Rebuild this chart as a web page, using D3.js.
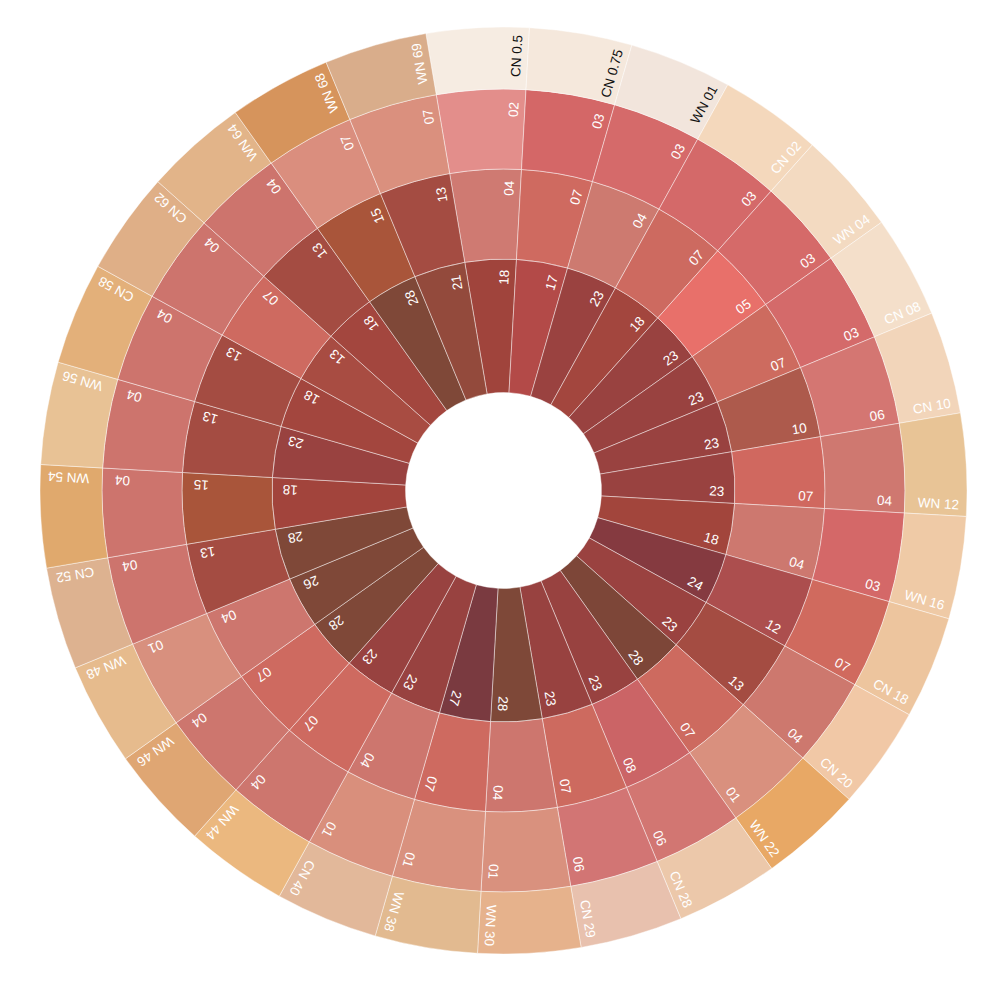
<!DOCTYPE html>
<html>
<head>
<meta charset="utf-8">
<script src="https://cdn.jsdelivr.net/npm/d3@7"></script>
<style>
  html, body { margin: 0; padding: 0; background: #fff; }
  svg { display: block; }
</style>
</head>
<body>
<svg id="chart" width="1000" height="1000"></svg>
<script>
// ---------- data (clockwise from the top segment) ----------
const outerLabels = ["CN 0.5","CN 0.75","WN 01","CN 02","WN 04","CN 08","CN 10","WN 12","WN 16","CN 18",
  "CN 20","WN 22","CN 28","CN 29","WN 30","WN 38","CN 40","WN 44","WN 46","WN 48",
  "CN 52","WN 54","WN 56","CN 58","CN 62","WN 64","WN 68","WN 69"];
const ring3Values = [2,3,3,3,3,3,6,4,3,7,4,1,6,6,1,1,1,4,4,1,4,4,4,4,4,4,7,7];
const ring2Values = [4,7,4,7,5,7,10,7,4,12,13,7,8,7,4,7,4,7,7,4,13,15,13,13,7,13,15,13];
const ring1Values = [18,17,23,18,23,23,23,23,18,24,23,28,23,23,28,27,23,23,28,26,28,18,23,18,13,18,28,21];

// ---------- palettes ----------
const ring1Colors = ["#a0443c","#b34a48","#9a4240","#a3463e","#994240","#994240","#994240","#994240","#a2453c","#853a40",
  "#9a4240","#7d4638","#984240","#984240","#7e4838","#7a3a40","#984240","#984240","#7f4838","#7f4838",
  "#7f4838","#a2443c","#994240","#a3463e","#a84c42","#a3463e","#7f4838","#934a3c"];
const ring2Colors = ["#cf7a72","#cf6a60","#cd7a70","#cd6a60","#e8706a","#cd6b5f","#ad5a4c","#d0685f","#cd786f","#ac4e4e",
  "#a44c42","#cd6a5f","#cb6466","#cd6a5f","#cd766e","#ce6a60","#cd766e","#ce6a60","#ce6a60","#cd766e",
  "#a44c42","#a9553a","#a44c42","#a44c42","#ce6a60","#a44c42","#a9553a","#a44c42"];
const ring3Colors = ["#e38e8b","#d46767","#d56a6a","#d46969","#d56a69","#d46a6a","#d47672","#cf7870","#d46868","#d06a5e",
  "#cd786e","#d9907e","#d27672","#d27574","#d9917e","#d9917e","#d98f7c","#cd766e","#cd766e","#d8907e",
  "#cd746d","#cd746d","#cd746d","#cd746d","#cd746d","#cd746d","#da8e7e","#da907e"];
const outerColors = ["#f6ece2","#f5e8dc","#f2e5dc","#f4d8bc","#f3dac1","#f4dfca","#f2d5ba","#e8c496","#efcaa6","#edc59e",
  "#f1c8a6","#e8a865","#ecc8aa","#e8c1ae","#e6b28c","#e2ba90","#e2b89a","#ebb87f","#dfa673","#e6bb8d",
  "#ddb290","#e0a96d","#e8c295","#e3b07a","#dfaf87","#e2b489","#d6945c","#d9ad8b"];

// ---------- layout ----------
const cx = 503.5, cy = 490.5;
const n = outerLabels.length;
const offset = -0.75 * (2 * Math.PI / n);
const angle = d3.scaleBand().domain(d3.range(n)).range([offset, offset + 2 * Math.PI]).padding(0);
const ringRadius = d3.scaleOrdinal().domain([0,1,2,3,4]).range([98, 231.5, 321.5, 401.5, 463.5]);
const labelInset = [11, 12, 13, 8];
const fmt = d3.format("02d");

const rings = [
  { labels: ring1Values.map(fmt), color: d3.scaleOrdinal().domain(d3.range(n)).range(ring1Colors) },
  { labels: ring2Values.map(fmt), color: d3.scaleOrdinal().domain(d3.range(n)).range(ring2Colors) },
  { labels: ring3Values.map(fmt), color: d3.scaleOrdinal().domain(d3.range(n)).range(ring3Colors) },
  { labels: outerLabels,          color: d3.scaleOrdinal().domain(d3.range(n)).range(outerColors) }
];

const svg = d3.select("#chart");
const g = svg.append("g").attr("transform", `translate(${cx},${cy})`);
const arc = d3.arc();

rings.forEach((ring, ri) => {
  const r0 = ringRadius(ri), r1 = ringRadius(ri + 1);
  const cells = d3.range(n).map(i => ({
    i, label: ring.labels[i],
    startAngle: angle(i), endAngle: angle(i) + angle.bandwidth(),
    innerRadius: r0, outerRadius: r1, fill: ring.color(i)
  }));
  const layer = g.append("g");
  layer.selectAll("path").data(cells).join("path")
    .attr("d", arc)
    .attr("fill", d => d.fill)
    .attr("stroke", "rgba(255,255,255,0.55)")
    .attr("stroke-width", 0.8);

  layer.selectAll("text").data(cells).join("text")
    .attr("transform", d => `rotate(${d.endAngle * 180 / Math.PI - 90}) translate(${r1 - labelInset[ri]},-6.7)`)
    .attr("text-anchor", "end")
    .attr("font-family", "'Liberation Sans', Arial, Helvetica, sans-serif")
    .attr("font-size", 13.5)
    .attr("fill", d => d3.hsl(d.fill).l > 0.89 ? "#111" : "#fff")
    .text(d => d.label);
});
</script>
</body>
</html>
